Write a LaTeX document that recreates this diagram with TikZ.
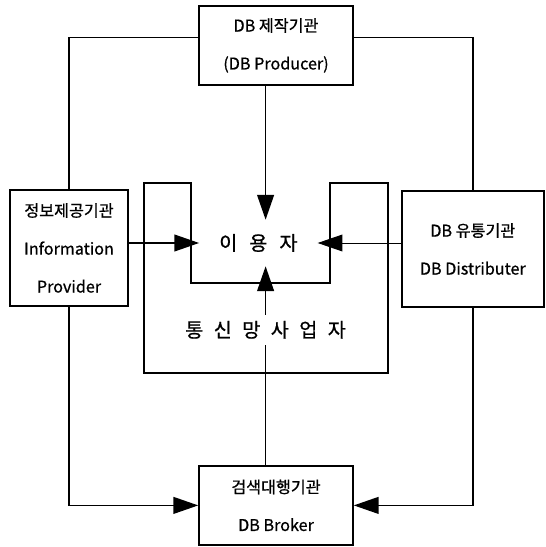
\documentclass[tikz,border=0pt]{standalone}
\usepackage{fontspec}
\setmainfont{Noto Sans CJK KR}[FakeBold=0.8]
\usetikzlibrary{arrows.meta,positioning,calc}

\tikzset{
	box/.style={draw,line width=1.4pt,align=center,inner sep=0pt,font=\fontsize{11.5}{27}\selectfont},
	wire/.style={line width=1.1pt},
	conn/.style={line width=1.1pt,-{Triangle[length=6.2mm,width=4.2mm]}},
	big/.style={inner sep=0pt,font=\fontsize{14}{15}\selectfont}
}

\begin{document}
\begin{tikzpicture}
	\useasboundingbox (0,0) rectangle (13.65,13.675);
	% the four agencies
	\node[box,minimum width=3.84cm,minimum height=1.98cm] (prod) at (6.9,12.54) {DB 제작기관\\(DB Producer)};
	\node[box,minimum width=2.95cm,minimum height=2.9cm] (info) at (1.725,7.475) {정보제공기관\\Information\\Provider};
	\node[box,minimum width=3.54cm,minimum height=2.9cm] (dist) at (11.82,7.45) {DB 유통기관\\DB Distributer};
	\node[box,minimum width=3.84cm,minimum height=1.98cm] (broker) at (6.9,1.04) {검색대행기관\\DB Broker};
	% network operator around the user
	\draw[line width=1.4pt] (3.61,9.09) -- (4.775,9.09) -- (4.775,6.6) -- (8.25,6.6) -- (8.25,9.09) -- (9.7,9.09) -- (9.7,4.35) -- (3.61,4.35) -- cycle;
	\node[big,minimum width=2.95cm,minimum height=1.15cm] (user) at (6.46,7.6) {이\hspace{3mm}용\hspace{3mm}자};
	\node[big,minimum height=0.75cm] (net) at (6.64,5.43) {통\hspace{2.6mm}신\hspace{2.6mm}망\hspace{2.6mm}사\hspace{2.6mm}업\hspace{2.6mm}자};
	% connectors
	\draw[wire] ([yshift=2mm]prod.west) -| (info.north);
	\draw[wire] ([yshift=2mm]prod.east) -| (dist.north);
	\draw[conn] (info.south) |- (broker.west);
	\draw[conn] (dist.south) |- (broker.east);
	\draw[conn] (prod.south -| net) -- (user.north -| net);
	\draw[conn] (info.east |- user) -- (user.west);
	\draw[conn,line width=0.7pt] (dist.west |- user) -- (user.east);
	\draw[wire] (broker.north -| net) -- (net.south);
	\draw[conn] (net.north) -- (user.south -| net);
\end{tikzpicture}
\end{document}
